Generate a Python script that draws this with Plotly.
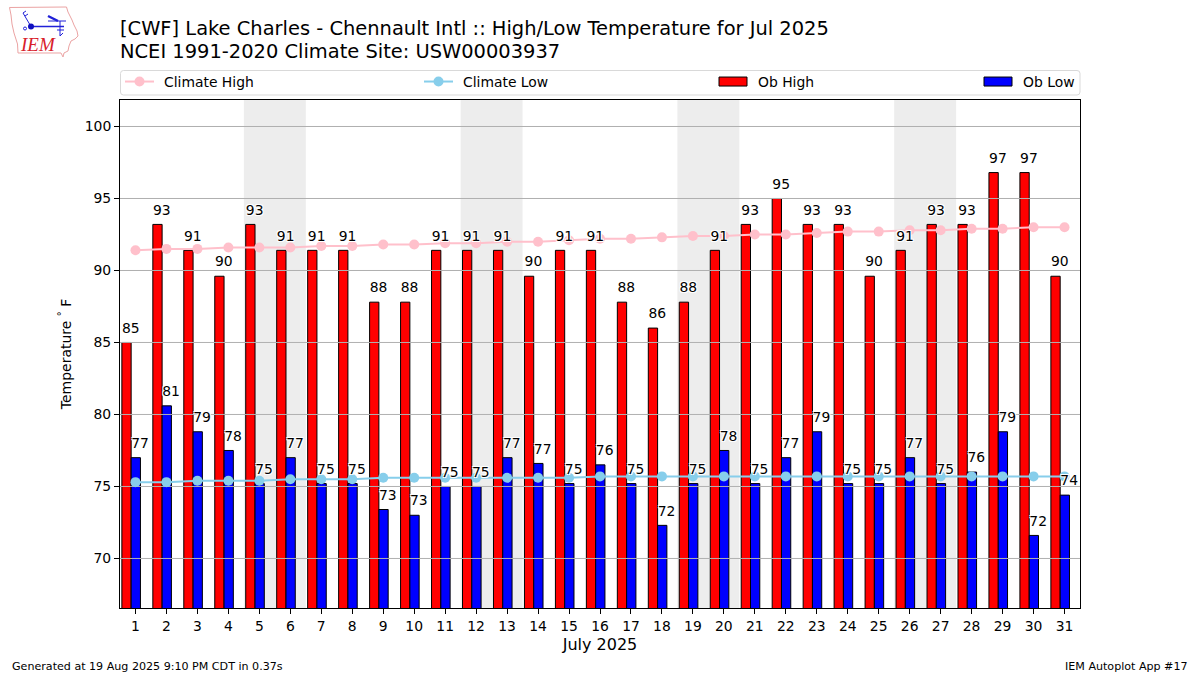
import plotly.graph_objects as go

DAYS = list(range(1, 32))
OB_HIGH = [85, 93.2, 91.4, 89.6, 93.2, 91.4, 91.4, 91.4, 87.8, 87.8, 91.4, 91.4, 91.4, 89.6, 91.4, 91.4,
           87.8, 86, 87.8, 91.4, 93.2, 95, 93.2, 93.2, 89.6, 91.4, 93.2, 93.2, 96.8, 96.8, 89.6]
OB_LOW = [77, 80.6, 78.8, 77.5, 75.2, 77, 75.2, 75.2, 73.4, 73, 75, 75, 77, 76.6, 75.2, 76.5,
          75.2, 72.3, 75.2, 77.5, 75.2, 77, 78.8, 75.2, 75.2, 77, 75.2, 76, 78.8, 71.6, 74.4]
HIGH_LABELS = ["85", "93", "91", "90", "93", "91", "91", "91", "88", "88", "91", "91", "91", "90", "91", "91",
               "88", "86", "88", "91", "93", "95", "93", "93", "90", "91", "93", "93", "97", "97", "90"]
LOW_LABELS = ["77", "81", "79", "78", "75", "77", "75", "75", "73", "73", "75", "75", "77", "77", "75", "76",
              "75", "72", "75", "78", "75", "77", "79", "75", "75", "77", "75", "76", "79", "72", "74"]
CLIMATE_HIGH = [91.4, 91.5, 91.5, 91.6, 91.6, 91.6, 91.7, 91.7, 91.8, 91.8, 91.9, 91.9, 92.0, 92.0, 92.1, 92.2,
                92.2, 92.3, 92.4, 92.4, 92.5, 92.5, 92.6, 92.7, 92.7, 92.8, 92.8, 92.9, 92.9, 93.0, 93.0]
CLIMATE_LOW = [75.3, 75.3, 75.4, 75.4, 75.4, 75.5, 75.5, 75.5, 75.6, 75.6, 75.6, 75.6, 75.6, 75.6, 75.6, 75.7,
               75.7, 75.7, 75.7, 75.7, 75.7, 75.7, 75.7, 75.7, 75.7, 75.7, 75.7, 75.7, 75.7, 75.7, 75.7]
WEEKEND_STARTS = [5, 12, 19, 26]
Y_TICKS = [70, 75, 80, 85, 90, 95, 100]

TITLE_1 = "[CWF] Lake Charles - Chennault Intl :: High/Low Temperature for Jul 2025"
TITLE_2 = "NCEI 1991-2020 Climate Site: USW00003937"
FOOT_L = "Generated at 19 Aug 2025 9:10 PM CDT in 0.37s"
FOOT_R = "IEM Autoplot App #17"

FONT = "DejaVu Sans"
W, H = 1200, 675
L, R, T, B = 120, 1080, 100, 608


def px(x):
    return (x - L) / (R - L)


def py(y):
    return (B - y) / (B - T)


def pth(points, close=False):
    s = "M" + " L".join(f"{px(a):.5f},{py(b):.5f}" for a, b in points)
    return s + (" Z" if close else "")


fig = go.Figure()

# grid above the bars, below the climatology
for t in Y_TICKS:
    fig.add_trace(go.Scatter(x=[0.5, 31.5], y=[t, t], mode="lines", showlegend=False, hoverinfo="skip",
                             line=dict(color="#b0b0b0", width=1)))

fig.add_trace(go.Scatter(x=DAYS, y=CLIMATE_HIGH, name="Climate High", mode="lines+markers", legend="legend",
                         line=dict(color="pink", width=2), marker=dict(color="pink", size=10)))
fig.add_trace(go.Scatter(x=DAYS, y=CLIMATE_LOW, name="Climate Low", mode="lines+markers", legend="legend2",
                         line=dict(color="skyblue", width=2), marker=dict(color="skyblue", size=10)))
fig.add_trace(go.Bar(x=DAYS, y=OB_HIGH, name="Ob High", width=0.3, offset=-0.44, legend="legend3",
                     marker=dict(color="red", line=dict(color="black", width=1))))
fig.add_trace(go.Bar(x=DAYS, y=OB_LOW, name="Ob Low", width=0.3, offset=-0.14, legend="legend4",
                     marker=dict(color="blue", line=dict(color="black", width=1))))

halo = "-1px -1px 0 #fff, 1px -1px 0 #fff, -1px 1px 0 #fff, 1px 1px 0 #fff"
label_font = dict(family=FONT, size=13.9, color="black", shadow=halo)
fig.add_trace(go.Scatter(x=[d - 0.15 for d in DAYS], y=[v + 0.44 for v in OB_HIGH], text=HIGH_LABELS,
                         mode="text", textposition="top center", textfont=label_font,
                         showlegend=False, hoverinfo="skip"))
fig.add_trace(go.Scatter(x=[d + 0.15 for d in DAYS], y=[v + 0.44 for v in OB_LOW], text=LOW_LABELS,
                         mode="text", textposition="top center", textfont=label_font,
                         showlegend=False, hoverinfo="skip"))

shapes = [dict(type="rect", xref="x", yref="paper", x0=d - 0.5, x1=d + 1.5, y0=0, y1=1, layer="below",
               fillcolor="#ededed", line=dict(width=0)) for d in WEEKEND_STARTS]

# legend frame (rounded)
x0, x1, y0, y1, r = 120.5, 1080, 70.5, 95, 3
shapes.append(dict(type="path", xref="paper", yref="paper", layer="below",
                   path=(f"M{px(x0+r):.5f},{py(y0):.5f} L{px(x1-r):.5f},{py(y0):.5f} "
                         f"Q{px(x1):.5f},{py(y0):.5f} {px(x1):.5f},{py(y0+r):.5f} "
                         f"L{px(x1):.5f},{py(y1-r):.5f} Q{px(x1):.5f},{py(y1):.5f} {px(x1-r):.5f},{py(y1):.5f} "
                         f"L{px(x0+r):.5f},{py(y1):.5f} Q{px(x0):.5f},{py(y1):.5f} {px(x0):.5f},{py(y1-r):.5f} "
                         f"L{px(x0):.5f},{py(y0+r):.5f} Q{px(x0):.5f},{py(y0):.5f} {px(x0+r):.5f},{py(y0):.5f} Z"),
                   line=dict(color="#d9d9d9", width=1), fillcolor="white"))

# logo
IOWA = [(9.5, 7.5), (66.5, 7), (68, 12), (72, 20), (74, 25), (77, 31), (78, 36), (75, 39), (71, 41), (69, 46),
        (68, 51), (64, 53), (63, 57), (61, 53), (18, 53), (17.5, 44), (14, 33), (12, 24), (11, 15)]
shapes.append(dict(type="path", xref="paper", yref="paper", path=pth(IOWA, True),
                   line=dict(color="#eba3a3", width=1), fillcolor="white"))
BLUE = "#2020d8"
for seg, w in [([(31, 26.5), (64, 26.5)], 1.6), ([(31, 26.5), (23, 13)], 1), ([(23, 13), (26, 11)], 1),
               ([(25, 16), (28, 14)], 1), ([(48, 16), (58, 21)], 2.5), ([(48, 21), (66, 21)], 1),
               ([(60, 21), (60, 36)], 1), ([(60, 36), (63, 33)], 1), ([(57, 30), (64, 30)], 1)]:
    shapes.append(dict(type="path", xref="paper", yref="paper", path=pth(seg), line=dict(color=BLUE, width=w)))
shapes.append(dict(type="circle", xref="paper", yref="paper", x0=px(28), x1=px(34), y0=py(23.5), y1=py(29.5),
                   fillcolor="#1010c0", line=dict(width=0)))
shapes.append(dict(type="circle", xref="paper", yref="paper", x0=px(23.5), x1=px(26.5), y0=py(27), y1=py(30),
                   fillcolor="white", line=dict(color=BLUE, width=1)))

annotations = [
    dict(text=TITLE_1, x=px(118), y=py(42.5), xref="paper", yref="paper", xanchor="left", yanchor="bottom",
         showarrow=False, font=dict(family=FONT, size=19.45, color="black")),
    dict(text=TITLE_2, x=px(118), y=py(65), xref="paper", yref="paper", xanchor="left", yanchor="bottom",
         showarrow=False, font=dict(family=FONT, size=19.45, color="black")),
    dict(text=FOOT_L, x=px(10), y=py(666), xref="paper", yref="paper", xanchor="left", yanchor="middle",
         showarrow=False, font=dict(family=FONT, size=11.1, color="black")),
    dict(text=FOOT_R, x=px(1190), y=py(666), xref="paper", yref="paper", xanchor="right", yanchor="middle",
         showarrow=False, font=dict(family=FONT, size=11.1, color="black")),
    dict(text="<i>IEM</i>", x=px(38), y=py(45), xref="paper", yref="paper", xanchor="center", yanchor="middle",
         showarrow=False, font=dict(family="Liberation Serif", size=19, color="#d8202a")),
]


def leg(x):
    return dict(x=px(x), y=py(82), xanchor="left", yanchor="middle", orientation="h",
                bgcolor="rgba(0,0,0,0)", borderwidth=0, font=dict(family=FONT, size=13.9, color="black"))


fig.update_layout(
    width=W, height=H, autosize=False,
    margin=dict(l=L, r=W - R, t=T, b=H - B, pad=0),
    paper_bgcolor="white", plot_bgcolor="white",
    font=dict(family=FONT, size=13.9, color="black"),
    barmode="overlay", showlegend=True,
    shapes=shapes, annotations=annotations,
    legend=leg(124), legend2=leg(423), legend3=leg(718), legend4=leg(983),
    xaxis=dict(range=[0.5, 31.5], tickmode="array", tickvals=DAYS, ticktext=[str(d) for d in DAYS],
               showgrid=False, zeroline=False, showline=True, mirror=True, linecolor="black", linewidth=1,
               ticks="outside", ticklen=5, tickcolor="black", tickwidth=1,
               tickfont=dict(family=FONT, size=13.9),
               title=dict(text="July 2025", font=dict(family=FONT, size=16), standoff=6)),
    yaxis=dict(range=[66.56, 101.84], tickmode="array", tickvals=Y_TICKS, ticktext=[str(t) for t in Y_TICKS],
               showgrid=False, zeroline=False, showline=True, mirror=True, linecolor="black", linewidth=1,
               ticks="outside", ticklen=5, tickcolor="black", tickwidth=1,
               tickfont=dict(family=FONT, size=13.9),
               title=dict(text="Temperature <sup>°</sup> F", font=dict(family=FONT, size=14), standoff=9)),
)

post = """
document.body.style.margin='0';
document.querySelectorAll('.legendbar path, .legendpoints path').forEach(function(p){
  var d=p.getAttribute('d')||'';
  if(d.indexOf('M6,6')===0){p.setAttribute('d','M9,4.5H-19V-4.5H9Z');}
});
document.querySelectorAll('.legendlines path').forEach(function(p){p.setAttribute('d','M1,0h29');});
document.querySelectorAll('.legendsymbols .scatterpts').forEach(function(p){
  p.setAttribute('transform','translate(15.5,0)');
});
"""
fig.write_html("out.html", post_script=post, config={"displayModeBar": False})
